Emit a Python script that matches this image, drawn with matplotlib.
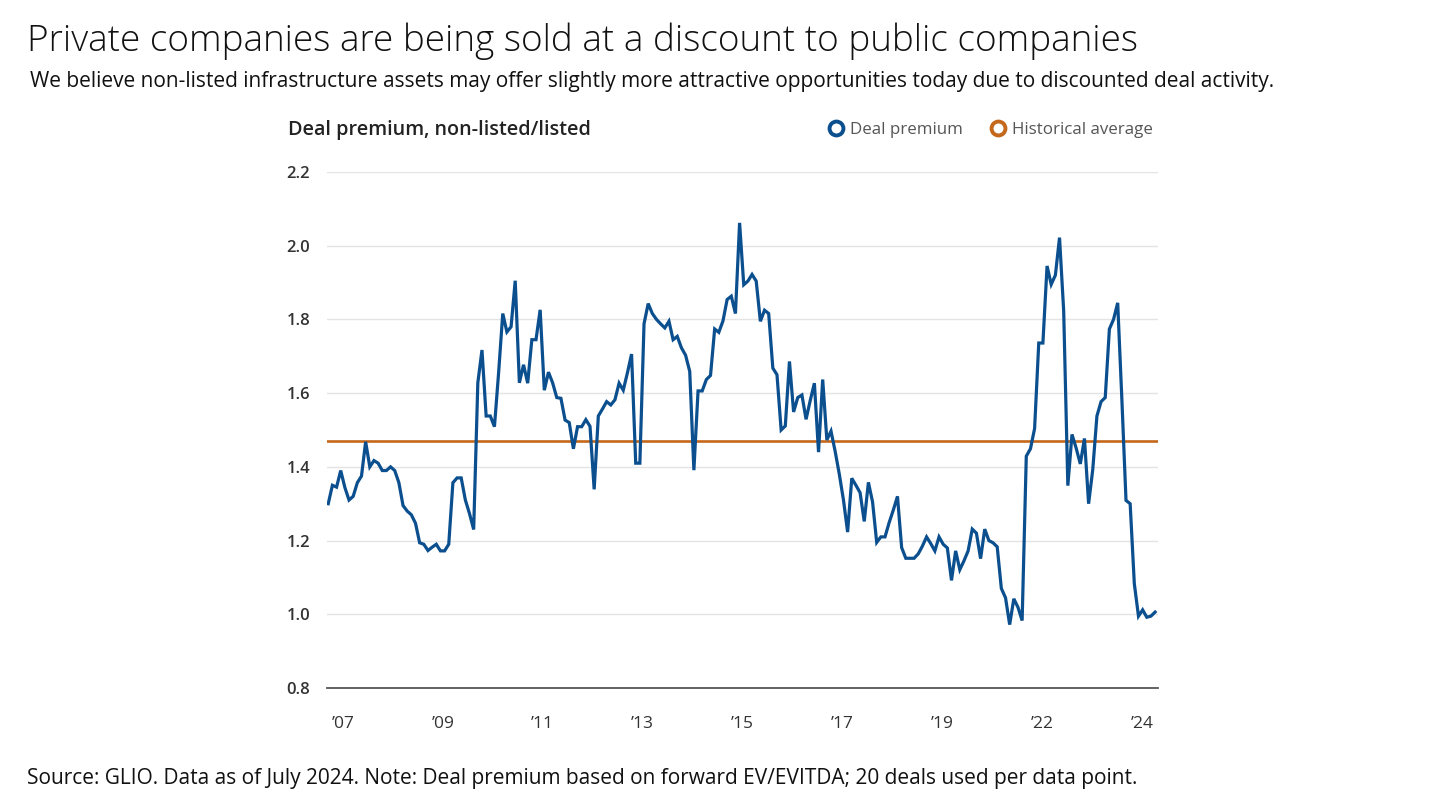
import numpy as np
import matplotlib
matplotlib.use("Agg")
import matplotlib.pyplot as plt
from matplotlib.lines import Line2D

# deal premium (non-listed / listed), one value per data point of 20 deals
deal_premium = [
    1.30, 1.35, 1.345, 1.39, 1.344, 1.31, 1.32, 1.357, 1.375, 1.468,
    1.40, 1.417, 1.41, 1.39, 1.39, 1.40, 1.39, 1.357, 1.295, 1.28,
    1.27, 1.247, 1.194, 1.19, 1.173, 1.182, 1.19, 1.172, 1.172, 1.19,
    1.357, 1.37, 1.37, 1.31, 1.273, 1.23,
    1.628, 1.717, 1.538, 1.538, 1.509, 1.655, 1.816, 1.766, 1.78, 1.905,
    1.628, 1.677, 1.627, 1.745, 1.745, 1.826, 1.608, 1.657, 1.628, 1.588,
    1.586, 1.527, 1.52, 1.449, 1.509, 1.509, 1.528, 1.51, 1.339, 1.538,
    1.557, 1.577, 1.568, 1.582, 1.627, 1.608,
    1.655, 1.706, 1.41, 1.41, 1.788, 1.843, 1.816, 1.80, 1.788, 1.777,
    1.795, 1.745, 1.754, 1.723, 1.703, 1.659, 1.391, 1.606, 1.606, 1.637,
    1.648, 1.774, 1.765, 1.796, 1.854, 1.863, 1.816, 2.062, 1.894, 1.904,
    1.922, 1.904, 1.795, 1.825, 1.816, 1.668, 1.65,
    1.50, 1.511, 1.686, 1.549, 1.588, 1.595, 1.529, 1.58, 1.627, 1.44,
    1.637, 1.473, 1.497, 1.442, 1.38, 1.31, 1.223, 1.369, 1.35, 1.33,
    1.252, 1.358, 1.305, 1.195, 1.21, 1.21, 1.249, 1.283, 1.32, 1.181,
    1.152, 1.152, 1.152, 1.164,
    1.185, 1.21, 1.192, 1.172, 1.21, 1.19, 1.18, 1.092, 1.172, 1.121,
    1.145, 1.172, 1.231, 1.22, 1.151, 1.231, 1.20, 1.194, 1.183, 1.07,
    1.045, 0.972,
    1.042, 1.019, 0.983, 1.429, 1.449, 1.504, 1.736, 1.736, 1.945, 1.895,
    1.92, 2.022, 1.823, 1.349, 1.488, 1.451, 1.408, 1.477, 1.30, 1.393,
    1.538, 1.577, 1.588, 1.774, 1.80, 1.845, 1.584, 1.309, 1.30, 1.083,
    0.995, 1.012, 0.992, 0.995, 1.006,
]
historical_average = 1.47

year_labels = ["\u201907", "\u201909", "\u201911", "\u201913", "\u201915",
               "\u201917", "\u201919", "\u201922", "\u201924"]
y_ticks = [0.8, 1.0, 1.2, 1.4, 1.6, 1.8, 2.0, 2.2]

blue = "#0b4f8f"
orange = "#c4681c"

plt.rcParams["font.family"] = ["Open Sans", "DejaVu Sans"]

fig = plt.figure(figsize=(14.4, 8.05), dpi=100)
ax = fig.add_axes([327 / 1440, 1 - 688 / 805, 831 / 1440, 516 / 805])

x = np.arange(len(deal_premium))
ax.plot(x, deal_premium, color=blue, lw=2.3, solid_joinstyle="miter", zorder=3)
ax.axhline(historical_average, color=orange, lw=1.9, zorder=2)

ax.set_xlim(-0.3, len(deal_premium) - 0.3)
ax.set_ylim(0.8, 2.2)

ax.set_yticks(y_ticks)
ax.set_yticklabels([f"{v:.1f}" for v in y_ticks], fontsize=12,
                   fontweight="semibold", color="#333333")
ax.set_xticks(np.linspace(3.5, 196, len(year_labels)))
ax.set_xticklabels(year_labels, fontsize=12.5, color="#333333")
ax.tick_params(axis="y", length=0, pad=12)
ax.tick_params(axis="x", length=0, pad=20)

ax.grid(axis="y", color="#e4e4e4", lw=1.0)
for t in ax.get_ygridlines()[:1]:
    t.set_visible(False)
for s in ["top", "right", "left"]:
    ax.spines[s].set_visible(False)
ax.spines["bottom"].set_color("#555555")
ax.spines["bottom"].set_linewidth(1.3)

fig.text(288 / 1440, 1 - 130 / 805, "Deal premium, non-listed/listed",
         fontsize=14.2, fontweight="semibold", color="#222222", va="center")

handles = [
    Line2D([], [], ls="none", marker="o", ms=10, mfc="white", mec=blue, mew=2.8),
    Line2D([], [], ls="none", marker="o", ms=10, mfc="white", mec=orange, mew=2.8),
]
fig.legend(handles, ["Deal premium", "Historical average"], ncol=2, frameon=False,
           loc="center right", bbox_to_anchor=(1168 / 1440, 1 - 130 / 805),
           fontsize=12.2, labelcolor="#555555", handletextpad=0.3,
           columnspacing=1.6, handlelength=1.0)

fig.text(27 / 1440, 1 - 41 / 805,
         "Private companies are being sold at a discount to public companies",
         fontsize=26.6, color="#111111", va="center", fontweight="light")
fig.text(30 / 1440, 1 - 82 / 805,
         "We believe non-listed infrastructure assets may offer slightly more "
         "attractive opportunities today due to discounted deal activity.",
         fontsize=15.0, color="#111111", va="center")
fig.text(27 / 1440, 1 - 778 / 805,
         "Source: GLIO. Data as of July 2024. Note: Deal premium based on forward "
         "EV/EVITDA; 20 deals used per data point.",
         fontsize=15.0, color="#111111", va="center")

fig.savefig("out.png", dpi=100)
